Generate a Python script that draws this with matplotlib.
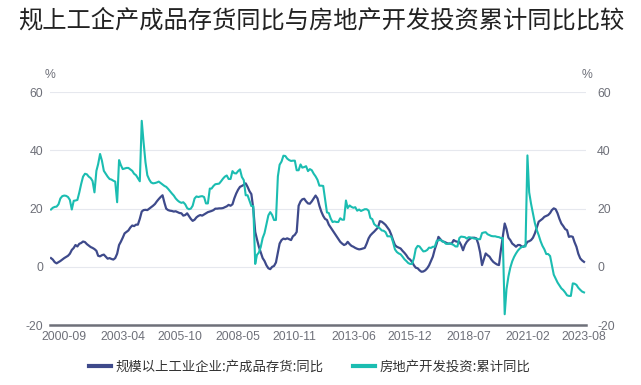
import matplotlib
matplotlib.use("Agg")
import matplotlib.pyplot as plt
import pandas as pd

plt.rcParams['font.family'] = ['Noto Sans CJK SC', 'DejaVu Sans']

title = "规上工企产成品存货同比与房地产开发投资累计同比比较"
name_inv = "规模以上工业企业:产成品存货:同比"
name_re = "房地产开发投资:累计同比"

# monthly, 2000-02 .. 2023-08
inventory_yoy = (
    [3.0, 2.5, 1.6, 1.2, 1.6, 2.0, 2.5, 3.0, 3.4, 3.8, 4.5, 5.8]
    + [6.5, 7.5, 7.0, 7.9, 8.2, 8.7, 8.5, 7.8, 7.3, 6.8, 6.5, 6.1]
    + [5.5, 3.8, 3.6, 4.0, 4.2, 3.5, 2.8, 3.0, 2.7, 2.5, 3.0, 4.5]
    + [7.5, 8.6, 10.0, 11.5, 12.0, 12.5, 13.5, 14.2, 14.0, 14.5, 14.5, 16.5]
    + [19.0, 19.5, 19.6, 19.5, 20.0, 20.5, 21.0, 21.6, 22.5, 23.3, 24.0, 24.6]
    + [22.0, 20.0, 19.5, 19.3, 19.2, 19.0, 19.1, 18.8, 18.5, 18.4, 17.6, 17.8]
    + [18.4, 17.5, 16.5, 15.8, 16.2, 17.0, 17.5, 17.8, 17.6, 18.0, 18.4, 18.8]
    + [19.0, 19.2, 19.5, 20.0, 20.0, 20.1, 20.1, 20.2, 20.5, 20.8, 21.3, 21.0]
    + [21.5, 23.5, 25.2, 26.5, 27.5, 27.8, 28.2, 28.7, 27.5, 26.0, 25.0, 20.0]
    + [12.0, 9.5, 6.9, 5.0, 3.0, 2.0, 0.5, -0.5, -0.8, 0.0, 0.3, 1.5]
    + [5.0, 8.0, 9.2, 9.7, 9.5, 9.8, 9.5, 9.2, 10.5, 11.0, 12.0, 21.0]
    + [22.5, 23.2, 23.4, 22.5, 21.8, 21.7, 22.5, 23.5, 24.5, 23.5, 21.0]
    + [19.0, 17.5, 16.5, 16.1, 14.5, 13.5, 12.6, 11.5, 10.5, 9.5, 8.6, 8.0]
    + [7.5, 7.8, 8.6, 7.8, 7.2, 6.9, 6.5, 6.2, 6.0, 6.1, 6.3, 6.5]
    + [8.0, 9.8, 10.8, 11.5, 12.1, 12.8, 13.5, 15.7, 15.5, 15.0, 14.4, 13.5]
    + [12.6, 11.0, 9.2, 7.5, 6.9, 6.6, 6.3, 5.5, 4.8, 4.0, 3.0, 2.5]
    + [1.7, 0.5, -0.3, -0.5, -1.2, -1.7, -1.6, -1.2, -0.5, 0.5, 2.0, 3.5]
    + [6.0, 8.0, 10.3, 9.5, 8.8, 8.6, 8.3, 8.0, 8.0, 8.0, 9.2, 8.8]
    + [8.6, 8.6, 7.5, 5.7, 7.5, 8.6, 9.3, 9.8, 10.0, 10.0, 9.8, 8.0]
    + [5.0, 0.6, 2.5, 4.6, 4.0, 3.5, 2.5, 1.7, 1.2, 0.8, 0.6, 5.7]
    + [10.3, 14.9, 13.0, 10.0, 9.2, 8.0, 7.5, 6.9, 7.5, 7.5, 7.0, 6.9]
    + [7.5, 8.6, 8.8, 9.2, 10.0, 11.5, 13.5, 15.5, 16.0, 16.5, 17.2, 17.5]
    + [17.8, 18.5, 19.5, 20.1, 19.8, 18.4, 16.5, 14.9, 14.0, 13.0, 12.6, 10.3]
    + [10.5, 10.3, 8.5, 6.9, 4.5, 2.9, 2.2, 1.7]
)

realestate_yoy = (
    [19.7, 20.3, 20.6, 20.7, 21.5, 23.5, 24.3, 24.5, 24.4, 24.0, 23.0]
    + [19.7, 22.7, 22.8, 23.0, 25.5, 28.5, 31.0, 32.0, 31.8, 31.0, 30.5, 29.5]
    + [25.6, 33.0, 35.3, 38.8, 36.5, 33.0, 32.0, 31.0, 30.2, 30.0, 29.6, 29.3]
    + [22.2, 36.7, 35.0, 33.6, 33.8, 34.0, 34.0, 33.5, 33.0, 32.0, 31.5, 30.5]
    + [29.4, 50.2, 43.0, 36.0, 31.5, 30.0, 29.0, 28.7, 28.8, 29.0, 29.3, 28.8]
    + [28.3, 27.8, 27.5, 26.8, 26.0, 25.2, 24.5, 23.5, 22.8, 22.3, 22.0, 22.2]
    + [21.5, 20.2, 19.8, 20.0, 21.0, 23.5, 24.2, 24.0, 24.2, 24.3, 24.0, 21.8]
    + [21.8, 26.9, 26.9, 27.8, 28.4, 28.5, 28.6, 29.4, 30.3, 31.0, 31.4, 30.2]
    + [30.2, 32.9, 32.2, 32.1, 32.9, 33.5, 30.9, 29.8, 24.6, 24.6, 22.7, 20.9]
    + [20.9, 1.0, 4.1, 4.9, 6.8, 9.9, 11.6, 14.7, 17.7, 18.8, 17.8, 16.1]
    + [16.1, 31.1, 35.1, 36.2, 38.2, 38.1, 37.2, 36.7, 36.4, 36.5, 36.5, 33.2]
    + [33.2, 35.2, 34.1, 34.3, 34.6, 32.9, 33.6, 33.2, 32.0, 31.1, 29.9, 27.9]
    + [27.9, 27.8, 23.5, 18.7, 18.5, 16.6, 15.4, 15.6, 15.4, 15.4, 16.7, 16.2]
    + [16.2, 22.8, 20.2, 21.1, 20.6, 20.3, 20.5, 19.3, 19.7, 19.2, 19.5, 19.8]
    + [19.8, 19.3, 16.8, 16.4, 14.7, 14.1, 13.7, 13.2, 12.5, 12.4, 11.9, 10.5]
    + [10.5, 10.4, 8.5, 6.0, 5.1, 4.6, 4.3, 3.5, 2.6, 2.0, 1.3, 1.0]
    + [1.0, 3.0, 6.2, 7.2, 7.0, 6.1, 5.3, 5.4, 5.8, 6.6, 6.5, 6.9]
    + [6.9, 8.9, 9.1, 9.3, 8.8, 8.5, 7.9, 7.9, 8.1, 7.8, 7.5, 7.0]
    + [7.0, 9.9, 10.4, 10.3, 10.2, 9.7, 10.2, 10.1, 9.9, 9.7, 9.7, 9.5]
    + [9.5, 11.6, 11.8, 11.9, 11.2, 10.9, 10.6, 10.5, 10.5, 10.3, 10.2, 9.9]
    + [9.9, -16.3, -7.7, -3.3, -0.3, 1.9, 3.4, 4.6, 5.6, 6.3, 6.8, 7.0]
    + [7.0, 38.3, 25.6, 21.6, 18.3, 15.0, 12.7, 10.9, 8.8, 7.2, 6.0, 4.4]
    + [4.4, 3.7, 0.7, -2.7, -4.0, -5.4, -6.4, -7.4, -8.0, -8.8, -9.8, -10.0]
    + [-10.0, -5.7, -5.8, -6.2, -7.2, -7.9, -8.5, -8.8]
)

dates = pd.date_range("2000-02-01", periods=len(realestate_yoy), freq="MS")
tick_labels = ["2000-09", "2003-04", "2005-10", "2008-05", "2010-11",
               "2013-06", "2015-12", "2018-07", "2021-02", "2023-08"]
y_ticks = [-20, 0, 20, 40, 60]

c_inv = "#3E4A8B"
c_re = "#1BBDB1"
grey = "#6E7079"
tick_font = "Liberation Sans"

W, H = 641, 385
fig = plt.figure(figsize=(W / 100, H / 100), dpi=100)
ax = fig.add_axes([50 / W, 1 - 325 / H, 536 / W, (325 - 92.3) / H])

ax.plot(dates, inventory_yoy, color=c_inv, lw=1.6, label=name_inv, zorder=3)
ax.plot(dates, realestate_yoy, color=c_re, lw=1.5, label=name_re, zorder=4)

ax.set_ylim(-20, 60)
ax.set_xlim(dates[0] - pd.Timedelta(days=16), dates[-1] + pd.Timedelta(days=32))
ax.set_yticks(y_ticks)
ax.set_yticklabels([str(v) for v in y_ticks], family=tick_font, fontsize=8.8, color=grey)
ax.grid(axis="y", color="#E6E8EE", lw=0.8, zorder=0)
ax.tick_params(axis="y", length=0, pad=5)

xt = [pd.Timestamp(t + "-01") for t in tick_labels]
ax.set_xticks(xt)
ax.set_xticklabels(tick_labels, family=tick_font, fontsize=8.8, color=grey)
ax.tick_params(axis="x", length=0, pad=4)

for s in ["top", "left", "right"]:
    ax.spines[s].set_visible(False)
ax.spines["bottom"].set_color(grey)
ax.spines["bottom"].set_linewidth(1.8)
ax.spines["bottom"].set_zorder(5)

ax2 = ax.twinx()
ax2.set_ylim(-20, 60)
ax2.set_yticks(y_ticks)
ax2.set_yticklabels([str(v) for v in y_ticks], family=tick_font, fontsize=8.8, color=grey)
ax2.tick_params(axis="y", length=0, pad=8)
for s in ["top", "left", "right", "bottom"]:
    ax2.spines[s].set_visible(False)

fig.text(50 / W, 1 - 75 / H, "%", ha="center", va="center", fontsize=8.8,
         color=grey, family=tick_font)
fig.text(587 / W, 1 - 75 / H, "%", ha="center", va="center", fontsize=8.8,
         color=grey, family=tick_font)

fig.text(321 / W, 1 - 21 / H, title, ha="center", va="center", fontsize=17.5,
         color="#222222")

leg = fig.legend(loc="center", bbox_to_anchor=(310 / W, 1 - 367 / H), ncol=2,
                 frameon=False, fontsize=9.6, handlelength=1.6, handletextpad=0.4,
                 columnspacing=2.2, labelcolor="#333333")
for h in leg.get_lines():
    h.set_linewidth(3)

fig.savefig("out.png", dpi=100)
